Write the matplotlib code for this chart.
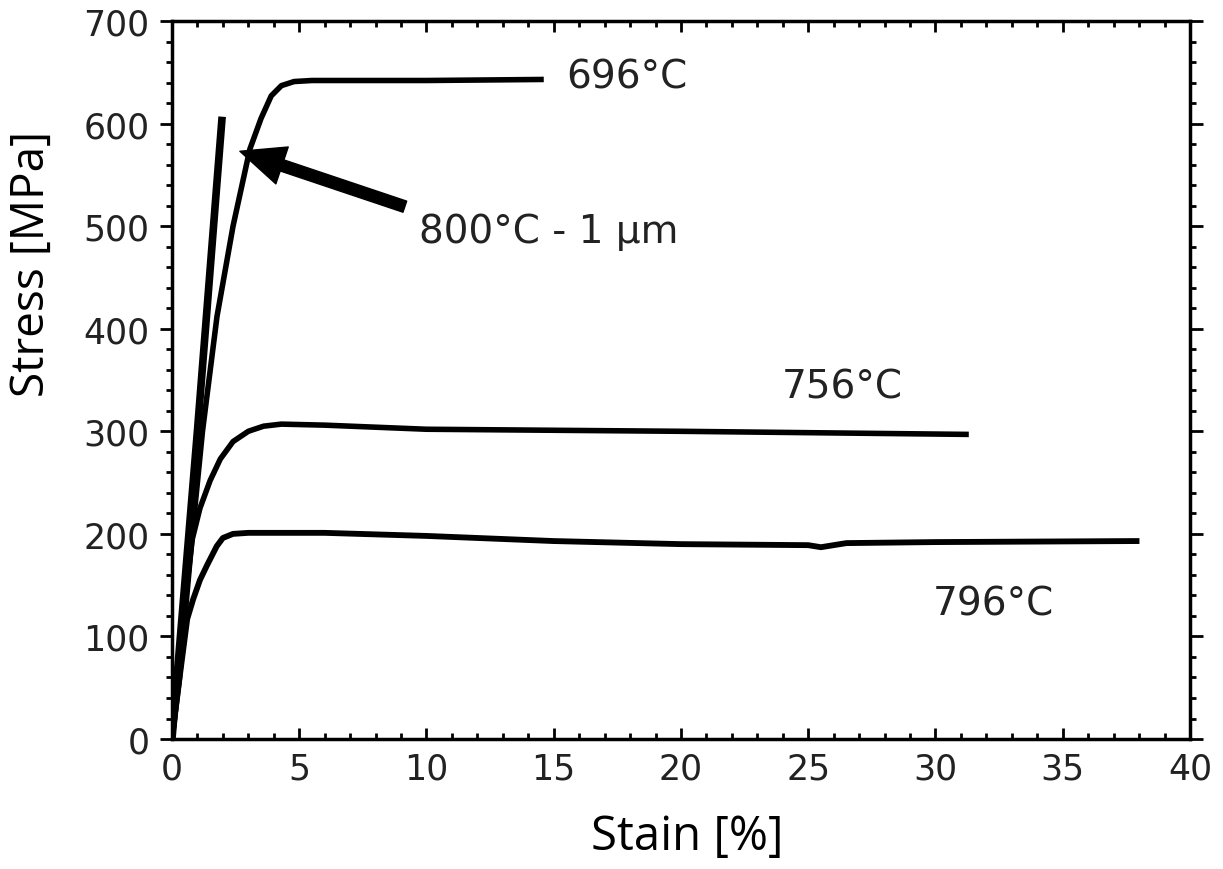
import matplotlib.pyplot as plt
from matplotlib.ticker import MultipleLocator

# curves: strain [%], stress [MPa]
x696 = [0, 0.3, 0.8, 1.2, 1.77, 2.4, 3.06, 3.5, 3.9, 4.3, 4.8, 5.5, 10, 14.5]
y696 = [0, 60, 200, 300, 412, 500, 575, 605, 627, 637, 641, 642, 642, 643]

x800 = [0, 1.0, 1.96]
y800 = [0, 300, 603]

x756 = [0, 0.4, 0.8, 1.1, 1.5, 1.9, 2.4, 3.0, 3.6, 4.3, 6, 10, 20, 31.2]
y756 = [0, 110, 195, 225, 252, 273, 290, 300, 305, 307, 306, 302, 300, 297]

x796 = [0, 0.3, 0.6, 0.83, 1.1, 1.37, 1.76, 2.0, 2.4, 3, 6, 10, 15, 20, 25, 25.5, 26.5, 30, 37.9]
y796 = [0, 60, 117, 136, 155, 169, 188, 196, 200, 201, 201, 198, 193, 190, 189, 187, 191, 192, 193]

labels = ['696°C', '800°C - 1 µm', '756°C', '796°C']
label_x = [15.5, 9.7, 23.95, 29.9]
label_y = [646, 495, 344, 132]

arrow_tip = (2.67, 573)
arrow_tail = (9.15, 519)

fig = plt.figure(figsize=(12.23, 8.70), dpi=100)
ax = fig.add_axes([0.1406, 0.1494, 0.8324, 0.8253])

ax.plot(x696, y696, color='black', lw=4, solid_joinstyle='round')
ax.plot(x800, y800, color='black', lw=5.5)
ax.plot(x756, y756, color='black', lw=4, solid_joinstyle='round')
ax.plot(x796, y796, color='black', lw=4.2, solid_joinstyle='round')

ax.annotate('', xy=arrow_tip, xytext=arrow_tail,
            arrowprops=dict(arrowstyle='simple,head_length=1.6,head_width=1.4,tail_width=0.42',
                            mutation_scale=20, color='black', shrinkA=0, shrinkB=0))

for t, tx, ty in zip(labels, label_x, label_y):
    ax.text(tx, ty, t, fontsize=28, color='#222222', va='center', ha='left',
            family='DejaVu Sans')

ax.set_xlim(0, 40)
ax.set_ylim(0, 700)
ax.xaxis.set_major_locator(MultipleLocator(5))
ax.xaxis.set_minor_locator(MultipleLocator(1))
ax.yaxis.set_major_locator(MultipleLocator(100))
ax.yaxis.set_minor_locator(MultipleLocator(20))

for s in ax.spines.values():
    s.set_linewidth(2.5)

ax.tick_params(axis='x', which='both', direction='in', top=True, width=2, pad=9,
               labelsize=25, labelcolor='#222222')
ax.tick_params(axis='x', which='major', length=8)
ax.tick_params(axis='x', which='minor', length=4)
ax.tick_params(axis='y', which='both', direction='out', right=True, width=2, pad=7,
               labelsize=25, labelcolor='#222222')
ax.tick_params(axis='y', which='major', length=9)
ax.tick_params(axis='y', which='minor', length=4)

ax.set_xlabel('Stain [%]', fontsize=34, family='Open Sans', va='center')
ax.set_ylabel('Stress [MPa]', fontsize=33, family='Open Sans', va='center')
ax.xaxis.set_label_coords(0.506, -0.136)
ax.yaxis.set_label_coords(-0.1375, 0.663)

fig.savefig('out.png', dpi=100)
